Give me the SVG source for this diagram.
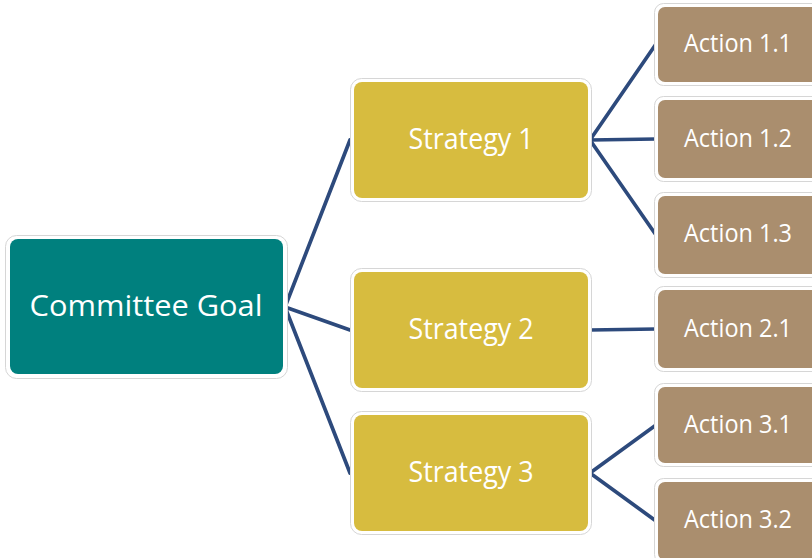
<svg xmlns="http://www.w3.org/2000/svg" width="812" height="558" viewBox="0 0 812 558">
  <style>
    .frame { fill: #ffffff; stroke: #d6d6d6; stroke-width: 1; }
    .goal { fill: #00807e; }
    .strategy { fill: #d7bc3f; }
    .action { fill: #aa8e6e; }
    .label { font-family: "Open Sans", "Noto Sans", sans-serif; fill: #ffffff; text-anchor: middle; }
    .big { font-size: 29px; }
    .small { font-size: 25px; }
    .link { stroke: #2d4a7c; stroke-width: 3.7; fill: none; stroke-linecap: round; }
  </style>

  <rect width="812" height="558" fill="#ffffff"/>

  <g id="connectors">
    <path class="link" d="M285 307 L350 140 M285 307 L350 330 M285 307 L350 473"/>
    <path class="link" d="M590 140 L656 44 M590 140 L656 139 M590 140 L656 235"/>
    <path class="link" d="M590 330 L656 329"/>
    <path class="link" d="M590 473 L656 425 M590 473 L656 521"/>
  </g>

  <g id="goal">
    <rect class="frame" x="5.5" y="235.5" width="282" height="143" rx="11"/>
    <rect class="goal" x="10" y="239" width="273" height="135" rx="8"/>
    <text class="label big" x="146" y="316" textLength="233" lengthAdjust="spacingAndGlyphs">Committee Goal</text>
  </g>

  <g id="strategy1">
    <rect class="frame" x="350.5" y="78.5" width="241" height="123" rx="11"/>
    <rect class="strategy" x="354" y="82" width="234" height="116" rx="8"/>
    <text class="label big" x="471" y="149" textLength="125" lengthAdjust="spacingAndGlyphs">Strategy 1</text>
  </g>
  <g id="strategy2">
    <rect class="frame" x="350.5" y="268.5" width="241" height="123" rx="11"/>
    <rect class="strategy" x="354" y="272" width="234" height="116" rx="8"/>
    <text class="label big" x="471" y="339" textLength="125" lengthAdjust="spacingAndGlyphs">Strategy 2</text>
  </g>
  <g id="strategy3">
    <rect class="frame" x="350.5" y="411.5" width="241" height="123" rx="11"/>
    <rect class="strategy" x="354" y="415" width="234" height="116" rx="8"/>
    <text class="label big" x="471" y="482" textLength="125" lengthAdjust="spacingAndGlyphs">Strategy 3</text>
  </g>

  <g id="action11">
    <rect class="frame" x="654.5" y="3.5" width="170" height="82" rx="9"/>
    <rect class="action" x="658" y="7" width="170" height="75" rx="7"/>
    <text class="label small" x="738" y="52" textLength="108" lengthAdjust="spacingAndGlyphs">Action 1.1</text>
  </g>
  <g id="action12">
    <rect class="frame" x="654.5" y="96.5" width="170" height="85" rx="9"/>
    <rect class="action" x="658" y="100" width="170" height="78" rx="7"/>
    <text class="label small" x="738" y="147" textLength="108" lengthAdjust="spacingAndGlyphs">Action 1.2</text>
  </g>
  <g id="action13">
    <rect class="frame" x="654.5" y="192.5" width="170" height="85" rx="9"/>
    <rect class="action" x="658" y="196" width="170" height="78" rx="7"/>
    <text class="label small" x="738" y="242" textLength="108" lengthAdjust="spacingAndGlyphs">Action 1.3</text>
  </g>
  <g id="action21">
    <rect class="frame" x="654.5" y="286.5" width="170" height="85" rx="9"/>
    <rect class="action" x="658" y="290" width="170" height="78" rx="7"/>
    <text class="label small" x="738" y="337" textLength="108" lengthAdjust="spacingAndGlyphs">Action 2.1</text>
  </g>
  <g id="action31">
    <rect class="frame" x="654.5" y="383.5" width="170" height="83" rx="9"/>
    <rect class="action" x="658" y="387" width="170" height="76" rx="7"/>
    <text class="label small" x="738" y="433" textLength="108" lengthAdjust="spacingAndGlyphs">Action 3.1</text>
  </g>
  <g id="action32">
    <rect class="frame" x="654.5" y="478.5" width="170" height="85" rx="9"/>
    <rect class="action" x="658" y="482" width="170" height="78" rx="7"/>
    <text class="label small" x="738" y="528" textLength="108" lengthAdjust="spacingAndGlyphs">Action 3.2</text>
  </g>
</svg>
